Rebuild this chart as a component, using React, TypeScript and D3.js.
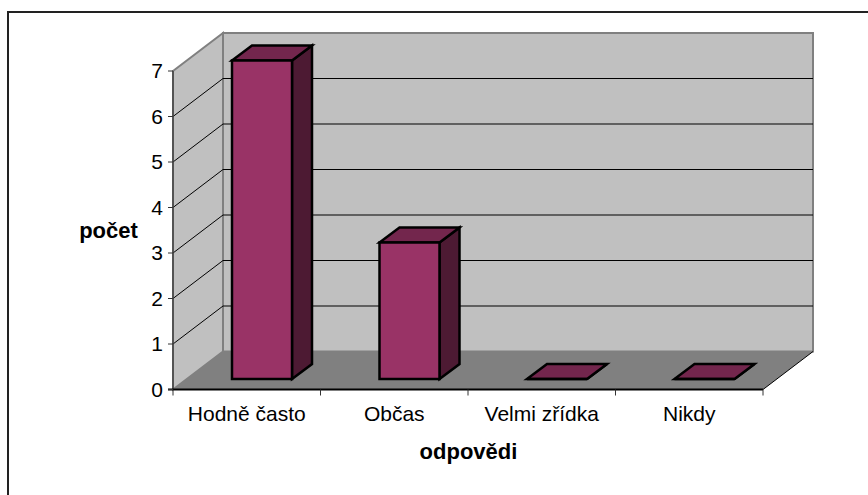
import React from "react";
import * as d3 from "d3";

const categories = ["Hodně často", "Občas", "Velmi zřídka", "Nikdy"];
const values = [7, 3, 0, 0];
const yTicks = [0, 1, 2, 3, 4, 5, 6, 7];
const yTitle = "počet";
const xTitle = "odpovědi";

const font = "Arial, 'Liberation Sans', sans-serif";
const y = d3.scaleLinear().domain([0, 7]).range([389.5, 71]);
const x = d3.scaleBand().domain(categories).range([173, 763]);
const depthX = 50;
const depthY = -38;
const pts = (p: number[][]) => p.map((q) => q.join(",")).join(" ");

export default function App() {
  const x0 = 173, x1 = 763, y0 = y(0), y7 = y(7);
  const barW = 60, bdx = 20, bdy = -15, floorOffY = -10.5;
  return (
    <svg width={868} height={495} style={{ position: "absolute", left: 0, top: 0 }}>
      <polyline points="8,495 8,12 868,12" fill="none" stroke="#222" strokeWidth={2} />
      <polygon points={pts([[x0 + depthX, y7 + depthY], [x1 + depthX, y7 + depthY], [x1 + depthX, y0 + depthY], [x0 + depthX, y0 + depthY]])} fill="#c0c0c0" stroke="#808080" strokeWidth={2} />
      <polygon points={pts([[x0, y7], [x0 + depthX, y7 + depthY], [x0 + depthX, y0 + depthY], [x0, y0]])} fill="#c0c0c0" stroke="#808080" strokeWidth={2} />
      <polygon points={pts([[x0, y0], [x1, y0], [x1 + depthX, y0 + depthY], [x0 + depthX, y0 + depthY]])} fill="#808080" />
      {yTicks.filter((t) => t > 0 && t < 7).map((t) => (
        <polyline key={t} points={pts([[x0, y(t)], [x0 + depthX, y(t) + depthY], [x1 + depthX, y(t) + depthY]])} fill="none" stroke="#000" strokeWidth={1} />
      ))}
      <line x1={x1} y1={y0} x2={x1 + depthX} y2={y0 + depthY} stroke="#000" strokeWidth={1} />
      <line x1={x0} y1={y7} x2={x0} y2={y0} stroke="#444" strokeWidth={1.5} />
      <line x1={x0 - 5} y1={y0} x2={x1} y2={y0} stroke="#000" strokeWidth={2} />
      {yTicks.map((t) => (
        <g key={t}>
          <line x1={x0 - 5} x2={x0} y1={y(t)} y2={y(t)} stroke="#333" />
          <text x={x0 - 10} y={y(t) + 7} textAnchor="end" fontFamily={font} fontSize={21} fill="#000">{t}</text>
        </g>
      ))}
      {d3.range(5).map((i) => (
        <line key={i} x1={x0 + (i * (x1 - x0)) / 4} x2={x0 + (i * (x1 - x0)) / 4} y1={y0} y2={y0 + 6} stroke="#333" />
      ))}
      {categories.map((c, i) => {
        const cx = (x(c) as number) + x.bandwidth() / 2;
        const l = cx - barW / 2 + 15.25;
        const r = l + barW;
        const b = y(0) + floorOffY;
        const t = b - (y(0) - y(values[i]));
        return (
          <g key={c} stroke="#000" strokeWidth={2.5} strokeLinejoin="miter">
            <polygon points={pts([[r, t], [r + bdx, t + bdy], [r + bdx, b + bdy], [r, b]])} fill="#4d1a33" />
            <polygon points={pts([[l, t], [l + bdx, t + bdy], [r + bdx, t + bdy], [r, t]])} fill="#73264d" />
            <polygon points={pts([[l, t], [r, t], [r, b], [l, b]])} fill="#993366" />
            <text x={cx} y={421} stroke="none" textAnchor="middle" fontFamily={font} fontSize={21} fill="#000">{c}</text>
          </g>
        );
      })}
      <text x={108.5} y={238} textAnchor="middle" fontFamily={font} fontSize={22} fontWeight="bold">{yTitle}</text>
      <text x={468.5} y={459} textAnchor="middle" fontFamily={font} fontSize={22} fontWeight="bold">{xTitle}</text>
    </svg>
  );
}
